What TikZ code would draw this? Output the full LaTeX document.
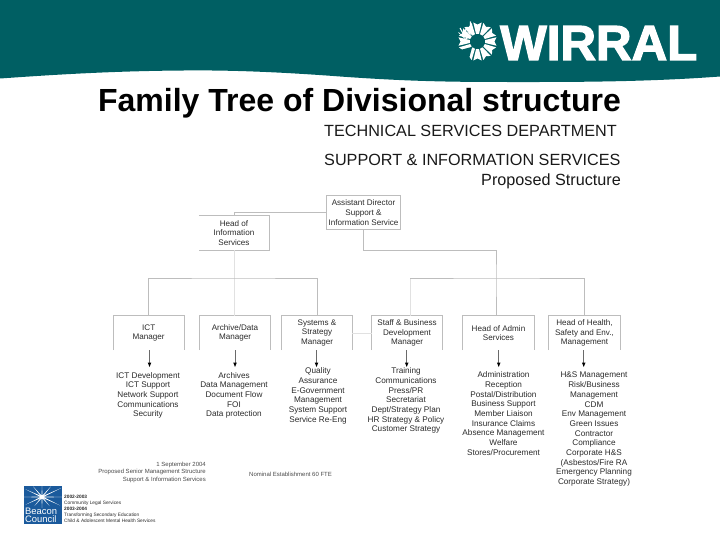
\documentclass[tikz,border=0pt]{standalone}
\usepackage{fontspec}
\setmainfont{Liberation Sans}
\newfontfamily\wirfont[BoldFeatures={FakeBold=2.5}]{Liberation Sans}
\definecolor{teal1}{HTML}{005F63}
\definecolor{beacon}{HTML}{1B5A9C}
\definecolor{rule1}{HTML}{BDBDBD}
\definecolor{ink}{HTML}{2A2A2A}
\tikzset{
 posbox/.style={inner sep=0pt,minimum width=#1,minimum height=34pt,align=center,font=\fontsize{8.1}{9.7}\selectfont,text=ink},
 posbox/.default=70pt,
 duties/.style={anchor=north,inner sep=0pt,align=center,font=\fontsize{8.2}{9.7}\selectfont,text=ink},
 boxline/.style={draw=rule1,line width=0.7pt},
 tree/.style={draw=rule1,line width=0.7pt},
 feed/.style={draw=rule1,line width=1pt},
 faint/.style={draw=rule1!45,line width=0.6pt},
 drop/.style={draw=ink!70,line width=0.5pt},
 tip/.style={fill=black,draw=none},
 foot/.style={inner sep=0pt,font=\fontsize{6}{7.5}\selectfont,text=ink!85},
 heading/.style={inner sep=0pt,font=\fontsize{16.2}{20}\selectfont,text=black!90},
 bline/.style={inner sep=0pt,anchor=west,font=\fontsize{4.8}{5}\selectfont,text=ink}
}
\begin{document}
\begin{tikzpicture}[x=1pt,y=-1pt]
\useasboundingbox (0,0) rectangle (720,540);
% header band
\fill[teal1] (0,0) -- (720,0) -- (720,76.5) .. controls (640,82.5) and (560,82) .. (500,82)
  .. controls (430,82) and (390,80) .. (340,76.5) .. controls (280,72) and (230,70) .. (184,70.5)
  .. controls (110,71) and (50,75) .. (0,78.5) -- cycle;
% sunburst
\begin{scope}[shift={(477.5,41.5)}]
\foreach \a in {0,30,...,330}{
 \fill[white,rotate=\a] (0:7.5) -- (-11:7.8) -- (-12.5:19.5) -- (0:17) -- (12.5:19.5) -- (11:7.8) -- cycle;
}
\fill[teal1] (135:7.5) -- (115:22) -- (155:22) -- cycle;
\draw[white,line width=1.1pt,line join=miter] (-17.5,-13.5) -- (-13,-5.5) -- (-11.5,-13) -- (-7.5,-7.5) -- (-7,-20);
\draw[white,line width=0.7pt] (-19,-9) -- (-12,-2.5) -- (-6,-5.5);
\end{scope}
\node (wirral) [anchor=base west,inner sep=0pt,text=white,font=\fontsize{49.3}{49}\selectfont\wirfont\bfseries] at (500,60) {WIRRAL};
% title
\node (title) [anchor=base,inner sep=0pt,font=\fontsize{32}{32}\selectfont\bfseries,text=black] at (359.5,112) {Family Tree of Divisional structure};
\node (h1) [heading,anchor=base west] at (324,137) {TECHNICAL SERVICES DEPARTMENT};
\node (h2) [heading,anchor=base west] at (324,165.5) {SUPPORT \& INFORMATION SERVICES};
\node (h3) [heading,anchor=base east] at (621,185.5) {Proposed Structure};
% boxes
\node (ad) [posbox=73pt] at (363.5,212.5) {Assistant Director\\Support \&\\Information Service};
\node (his) [posbox=70pt] at (234,233) {Head of\\Information\\Services};
\node (ict) [posbox=70.5pt] at (148.7,333) {ICT\\Manager};
\node (arch) [posbox=71pt] at (235,333) {Archive/Data\\Manager};
\node (sys) [posbox=70pt] at (317,333) {Systems \&\\Strategy\\Manager};
\node (staff) [posbox=70pt] at (407,333) {Staff \& Business\\Development\\Manager};
\node (admin) [posbox=71pt] at (498.5,333) {Head of Admin\\Services};
\node (hse) [posbox=71pt] at (584.5,333) {Head of Health,\\Safety and Env.,\\Management};
\draw[boxline] (ad.south west) rectangle (ad.north east);
\draw[boxline] (his.north west) -- (his.north east) -- (his.south east) -- (his.south west);
\foreach \n in {ict,arch,sys,staff,admin,hse}
 \draw[boxline] (\n.south west) -- (\n.north west) -- (\n.north east) -- (\n.south east);
% tree connectors
\coordinate (r1) at (234,278);
\coordinate (r2) at (496,278);
\coordinate (r3) at (496,250);
\draw[tree] (ad.west |- 0,212.5) -| (his.north);
\draw[faint] (his.south) -- (r1);
\draw[faint] (r1) -- (arch.north -| r1);
\draw[tree] (ict.north) |- (r1) -| (sys.north);
\draw[feed] (ad.south) |- (r3) -- (r2) -- (admin.north -| r2);
\draw[faint] (staff.north -| 410,0) -- (410,278);
\draw[tree] (410,278) -- (r2) -- (584,278) -- (584,316);
\draw[faint] (sys.east) -- (staff.west);
% duties
\node (d1) [duties] at (148,372) {ICT Development\\ICT Support\\Network Support\\Communications\\Security};
\node (d2) [duties] at (234,372) {Archives\\Data Management\\Document Flow\\FOI\\Data protection};
\node (d3) [duties] at (318,367.5) {Quality\\Assurance\\E-Government\\Management\\System Support\\Service Re-Eng};
\node (d4) [duties] at (406,367.5) {Training\\Communications\\Press/PR\\Secretariat\\Dept/Strategy Plan\\HR Strategy \& Policy\\Customer Strategy};
\node (d5) [duties] at (503.5,371.5) {Administration\\Reception\\Postal/Distribution\\Business Support\\Member Liaison\\Insurance Claims\\Absence Management\\Welfare\\Stores/Procurement};
\node (d6) [duties] at (594,372) {H\&S Management\\Risk/Business\\Management\\CDM\\Env Management\\Green Issues\\Contractor\\Compliance\\Corporate H\&S\\(Asbestos/Fire RA\\Emergency Planning\\Corporate Strategy)};
% drops with arrows
\foreach \n/\x in {ict/149.5,arch/235,sys/316.5,staff/406.7,admin/498.7,hse/583.7}{
 \draw[drop] (\x,350) -- (\x,363);
 \fill[tip] (\x-1.8,362.5) -- (\x+1.8,362.5) -- (\x,367) -- cycle;
}
% footer
\node (f1) [foot,anchor=north east,align=right] at (206,461.5) {1 September 2004\\Proposed Senior Management Structure\\Support \& Information Services};
\node (f2) [foot,anchor=west] at (249,474) {Nominal Establishment 60 FTE};
% Beacon
\fill[beacon] (24,486) rectangle (62,524);
\begin{scope}[shift={(42,497)}]
\foreach \a/\l in {0/20,180/18,90/11,270/11,25/21,205/18,335/20,155/18,50/14,130/14,230/12,310/12}
 \fill[white,rotate=\a] (0,-0.6) -- (\l,0) -- (0,0.6) -- cycle;
\fill[white] (0,0) circle (2.2);
\end{scope}
\node (bc) [inner sep=0pt,anchor=south west,align=left,text=white,font=\fontsize{9.4}{8.6}\selectfont] at (25,523) {Beacon\\Council};
\node (b1) [bline,font=\fontsize{4.8}{5}\selectfont\bfseries] at (64,497) {2002-2003};
\node (b2) [bline] at (64,503.5) {Community Legal Services};
\node (b3) [bline,font=\fontsize{4.8}{5}\selectfont\bfseries] at (64,509) {2003-2004};
\node (b4) [bline] at (64,515) {Transforming Secondary Education};
\node (b5) [bline] at (64,521) {Child \& Adolescent Mental Health Services};
\end{tikzpicture}
\end{document}
